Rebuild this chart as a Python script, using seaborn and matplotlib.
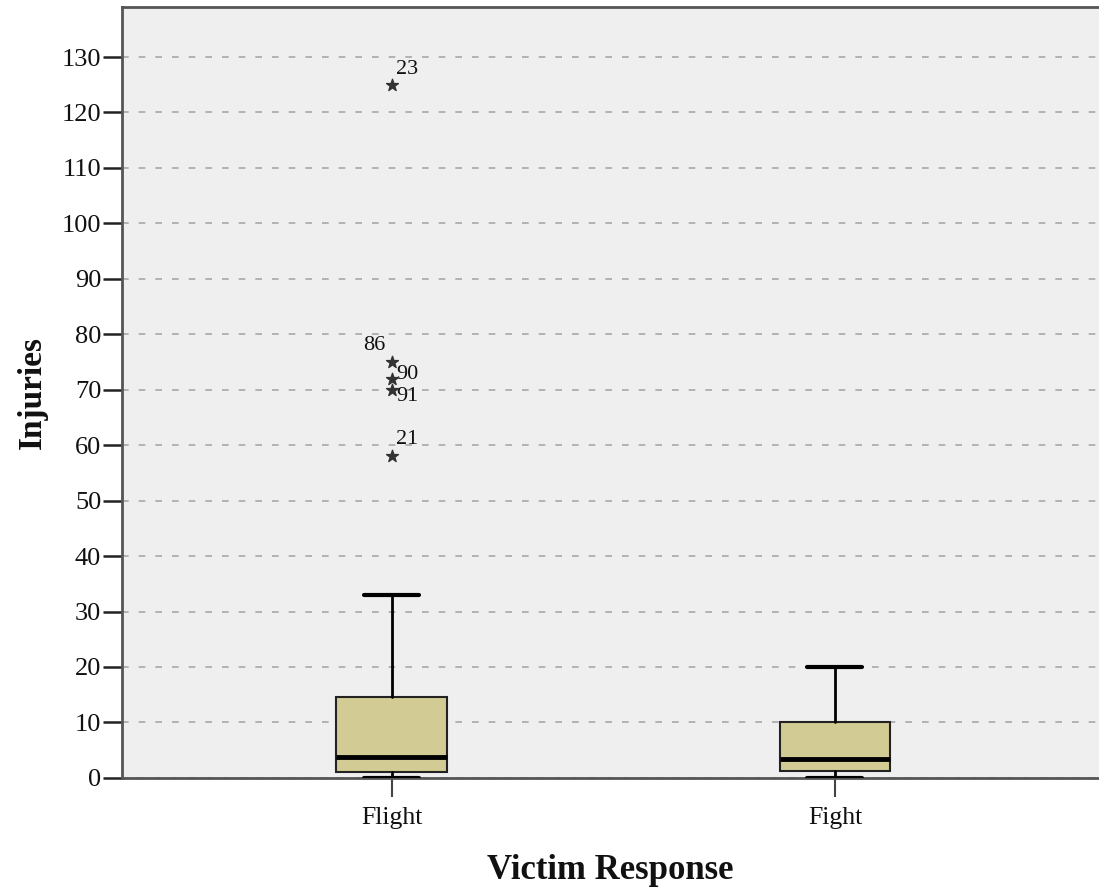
import matplotlib
matplotlib.use("Agg")
import matplotlib.pyplot as plt
import seaborn as sns

# summary stats
groups = ["Flight", "Fight"]
whisker_low = [0, 0]
q1 = [1.1, 1.3]
median = [3.8, 3.4]
q3 = [14.5, 10.0]
whisker_high = [33, 20]

# extreme values (Flight only) and their case labels
outlier_vals = [125, 75, 72, 70, 58]
outlier_ids = ["23", "86", "90", "91", "21"]

sns.set_theme(style="white")
plt.rcParams["font.family"] = ["Liberation Serif", "DejaVu Serif"]

fig = plt.figure(figsize=(10.99, 8.88), dpi=100)
ax = fig.add_axes([0.111, 0.124, 0.889, 0.868])
ax.set_facecolor("#efefef")

stats = []
for i, g in enumerate(groups):
    stats.append({
        "label": g,
        "whislo": whisker_low[i],
        "q1": q1[i],
        "med": median[i],
        "q3": q3[i],
        "whishi": whisker_high[i],
        "fliers": [],
    })

ax.bxp(
    stats,
    positions=[0, 1],
    widths=0.25,
    patch_artist=True,
    showfliers=False,
    boxprops=dict(facecolor="#d2cc94", edgecolor="#222222", linewidth=1.5),
    medianprops=dict(color="black", linewidth=3.5),
    whiskerprops=dict(color="black", linewidth=2),
    capprops=dict(color="black", linewidth=3),
    capwidths=0.124,
    zorder=3,
)

# extreme points shown as stars with case numbers
ax.scatter([0] * len(outlier_vals), outlier_vals, marker="*", s=80,
           color="#333333", zorder=4)
offsets = {"23": (0.01, 2.8, "left"), "86": (-0.015, 3.0, "right"),
           "90": (0.01, 0.8, "left"), "91": (0.01, -1.3, "left"),
           "21": (0.01, 3.0, "left")}
for v, lab in zip(outlier_vals, outlier_ids):
    dx, dy, ha = offsets[lab]
    ax.text(dx, v + dy, lab, ha=ha, va="center", fontsize=16, color="#111111")

ax.set_xlim(-0.609, 1.596)
ax.set_ylim(0, 139)
ax.set_yticks(range(0, 131, 10))
ax.set_xticks([0, 1])
ax.set_xticklabels(groups)
ax.yaxis.grid(True, linestyle=(0, (4, 6)), color="#a8a8a8", linewidth=1.2)
ax.set_axisbelow(True)

for side in ["left", "bottom", "top"]:
    ax.spines[side].set_color("#555555")
    ax.spines[side].set_linewidth(2)
ax.spines["right"].set_visible(False)

ax.tick_params(axis="y", direction="out", length=14, width=1.8, color="#222222",
               labelsize=19, pad=1, left=True, labelcolor="#111111")
ax.tick_params(axis="x", direction="out", length=14, width=1.5, color="#444444",
               labelsize=18.5, pad=7, bottom=True, labelcolor="#111111")

ax.set_ylabel("Injuries", fontsize=24, fontweight="bold", labelpad=10, color="#111111")
ax.set_xlabel("Victim Response", fontsize=25, fontweight="bold", labelpad=18, color="#111111")

fig.savefig("out.png", dpi=100)
